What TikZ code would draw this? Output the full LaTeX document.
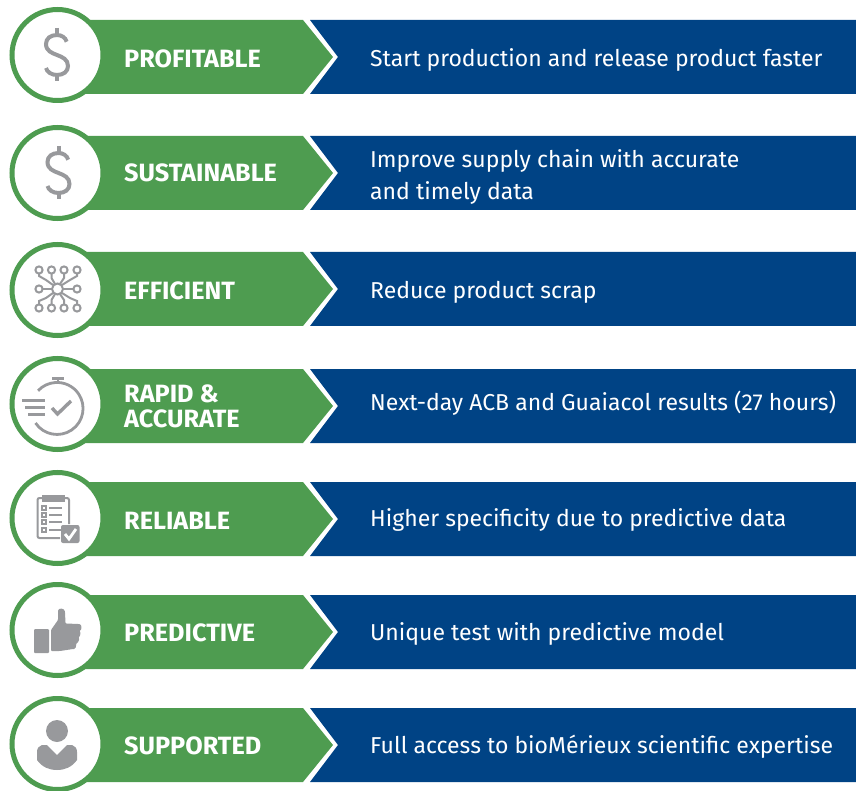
\documentclass[tikz,border=0pt]{standalone}
\usepackage{fontspec}
\setmainfont{Fira Sans}
\newfontfamily\labelfont[FakeStretch=1.01]{Fira Sans Bold}
\definecolor{bandgreen}{HTML}{4E9C50}
\definecolor{bandblue}{HTML}{004385}
\definecolor{icongray}{HTML}{98999C}
\tikzset{
  x=1pt,y=-1pt,
  greenband/.style={fill=bandgreen,draw=none},
  blueband/.style={fill=bandblue,draw=none},
  badge/.style={circle,draw=bandgreen,line width=5pt,fill=white,minimum size=91pt,inner sep=0pt},
  bandtitle/.style={text=white,anchor=west,align=left,inner sep=0pt,font=\labelfont\fontsize{25}{25.5}\selectfont},
  bandtext/.style={text=white,anchor=west,align=left,inner sep=0pt,font=\fontsize{23}{31.5}\selectfont},
  ic/.style={draw=icongray,line width=2pt,fill=none},
  icf/.style={fill=icongray,draw=none},
}
\newcommand{\bandrow}[3]{%
  \path[blueband] (310,#1) -- (856,#1) -- (856,#1+74) -- (310,#1+74) -- (338,#1+37) -- cycle;
  \path[greenband] (70,#1) -- (303,#1) -- (333,#1+37) -- (303,#1+74) -- (70,#1+74) -- cycle;
  \node[badge] (badge#2) at (57.5,#3) {};
}
\newcommand{\dollaricon}[2]{%
  \begin{scope}[shift={(#1,#2)}]
  \draw[icongray,line width=4pt] (9.7,-13.3) .. controls (8.5,-17.5) and (4.5,-20) .. (0,-20) .. controls (-6.5,-20) and (-11,-16.5) .. (-11,-11) .. controls (-11,-4) and (-5,-2) .. (0,0) .. controls (5.5,2) and (11,4.5) .. (11,11) .. controls (11,16.5) and (6.5,20) .. (0,20) .. controls (-5.5,20) and (-10,17) .. (-11,13);
  \draw[icongray,line width=4pt] (0,-27) -- (0,-20) (0,20) -- (0,26.5);
  \end{scope}
}
\begin{document}
\begin{tikzpicture}
\useasboundingbox (0,0) rectangle (856,791);
\bandrow{20}{a}{55}
\bandrow{136}{b}{173}
\bandrow{252}{c}{290}
\bandrow{369}{d}{404}
\bandrow{482}{e}{518}
\bandrow{595}{f}{630}
\bandrow{708}{g}{744}

\node[bandtitle] (ta) at (124,59) {PROFITABLE};
\node[bandtitle] (tb) at (124,173) {SUSTAINABLE};
\node[bandtitle] (tc) at (124,291) {EFFICIENT};
\node[bandtitle] (td) at (124,406.5) {RAPID \&\\ACCURATE};
\node[bandtitle] (te) at (124,521) {RELIABLE};
\node[bandtitle] (tf) at (124,633) {PREDICTIVE};
\node[bandtitle] (tg) at (124,746) {SUPPORTED};

\node[bandtext] (da) at (370,60) {Start production and release product faster};
\node[bandtext] (db) at (370,177) {Improve supply chain with accurate\\and timely data};
\node[bandtext] (dc) at (370,292) {Reduce product scrap};
\node[bandtext] (dd) at (370,403) {Next-day ACB and Guaiacol results (27 hours)};
\node[bandtext] (de) at (370,520) {Higher specificity due to predictive data};
\node[bandtext] (df) at (370,634) {Unique test with predictive model};
\node[bandtext] (dg) at (370,747) {Full access to bioMérieux scientific expertise};

\dollaricon{57}{55}
\dollaricon{58.5}{173}

% network
\foreach \p in {(39,270),(51.5,270),(64,270),(77,270),(39,289),(77,289),(39,308),(51.5,308),(64,308),(77,308)}
  \draw[ic] \p circle (3.6);
\draw[ic] (57.5,289) circle (5.5);
\draw[ic] (39,273.6) -- (39,276) -- (46,280) -- (53,285);
\draw[ic] (51.5,273.6) -- (51.5,278) -- (55,284);
\draw[ic] (64,273.6) -- (64,278) -- (60,284);
\draw[ic] (77,273.6) -- (77,276) -- (70,280) -- (62,285);
\draw[ic] (42.6,289) -- (52,289);
\draw[ic] (73.4,289) -- (63,289);
\draw[ic] (39,304.4) -- (39,301) -- (46,298) -- (53,293);
\draw[ic] (51.5,304.4) -- (51.5,300) -- (55,294);
\draw[ic] (64,304.4) -- (64,300) -- (60,294);
\draw[ic] (77,304.4) -- (77,301) -- (70,298) -- (62,293);

% stopwatch
\draw[icongray,line width=2.8pt] (35.5,423) arc[start angle=146,end angle=-137,radius=26];
\draw[icongray,line width=2.8pt] (58,378) -- (58,383);
\draw[icongray,line width=3pt] (52,378) -- (64,378);
\draw[icongray,line width=3pt] (22,400) -- (45,400) (25,407) -- (45,407) (28,414) -- (45,414);
\draw[icongray,line width=3.4pt] (52,408) -- (57.5,414) -- (71,401);

% clipboard
\draw[ic,rounded corners=2pt] (60,538) -- (37.5,538) -- (37.5,498) -- (69,498) -- (69,524);
\path[icf] (42,495) rectangle (65,502);
\foreach \y in {508,515,522,530}{
  \draw[icongray,line width=1.2pt] (42,\y-2) rectangle (46,\y+2);
  \draw[icongray,line width=1.5pt] (49,\y) -- (62,\y);
}
\path[icf,rounded corners=2pt] (61,525) rectangle (79.5,543);
\draw[white,line width=2.8pt] (65,534) -- (69,539) -- (76,529);

% thumb
\path[icf,rounded corners=1pt] (34,629) rectangle (49,653);
\path[icf,rounded corners=1pt] (51,630) -- (58,620) -- (58,611) .. controls (59,608) and (64,608) .. (65,612) -- (65.5,623.5) -- (79,624) .. controls (82,625) and (82,630) .. (79,631) .. controls (81,632) and (80,637) .. (78,637) .. controls (80,639) and (78,643) .. (76,643) .. controls (77,646) and (75,649) .. (73,649) -- (60,651) -- (51,651) -- cycle;

% person
\path[icf] (57,731) circle (11);
\path[icf] (47,745) -- (57,755) -- (67,745) -- (72,745) .. controls (75,746) and (77,748) .. (77,752) -- (77,760) .. controls (72,767) and (65,770) .. (57,770) .. controls (49,770) and (42,767) .. (37,760) -- (37,752) .. controls (37,748) and (39,746) .. (42,745) -- cycle;
\end{tikzpicture}
\end{document}
